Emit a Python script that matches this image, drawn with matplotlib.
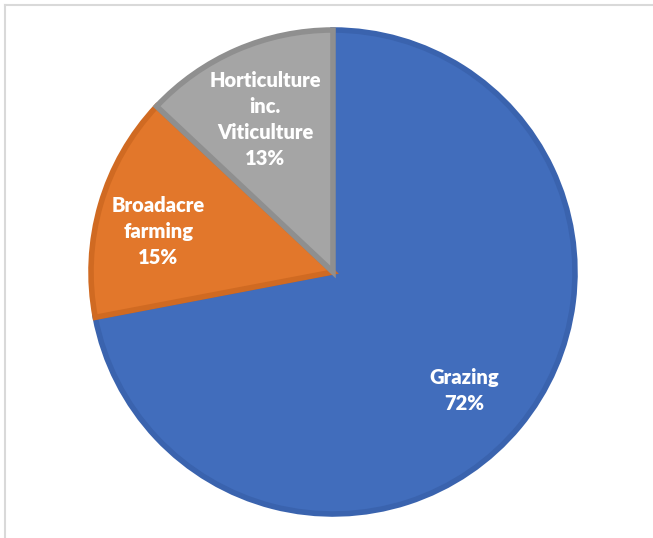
import numpy as np
import matplotlib.pyplot as plt
from matplotlib.lines import Line2D

labels = ['Grazing', 'Broadacre\nfarming', 'Horticulture\ninc.\nViticulture']
shares = [72, 15, 13]
colors = ['#416DBC', '#E2772B', '#A5A5A5']
edges = ['#3A63AE', '#D06A22', '#8F8F8F']

fig = plt.figure(figsize=(6.53, 5.38), dpi=100)

# outer chart frame (top and left edges visible)
fig.add_artist(Line2D([4.5 / 653, 4.5 / 653], [0, 1 - 5 / 538], color='#D9D9D9', lw=1.5))
fig.add_artist(Line2D([4.5 / 653, 1], [1 - 5 / 538, 1 - 5 / 538], color='#D9D9D9', lw=1.5))

cx, cy, r = 333, 272, 242
ax = fig.add_axes([(cx - r) / 653, (538 - cy - r) / 538, 2 * r / 653, 2 * r / 538])
ax.set_aspect('equal')

wedges, _ = ax.pie(shares, colors=colors, startangle=90, counterclock=False,
                   wedgeprops=dict(edgecolor='none'))
# darker inner rim on each slice
for w, ec in zip(wedges, edges):
    w.set_edgecolor(ec)
    w.set_linewidth(4)
    w.set_joinstyle('miter')

# label radius and angular nudge per slice
dist = [0.73, 0.74, 0.69]
nudge = [-2.6, 3.2, 0.6]
for w, lab, s, d, n in zip(wedges, labels, shares, dist, nudge):
    ang = np.deg2rad((w.theta1 + w.theta2) / 2 + n)
    ax.text(d * np.cos(ang), d * np.sin(ang), f'{lab}\n{s}%', ha='center', va='center',
            color='white', fontsize=14.5, fontweight='heavy', family='Lato', linespacing=1.42)

ax.set_xlim(-1, 1)
ax.set_ylim(-1, 1)
ax.axis('off')

fig.savefig('out.png', dpi=100)
